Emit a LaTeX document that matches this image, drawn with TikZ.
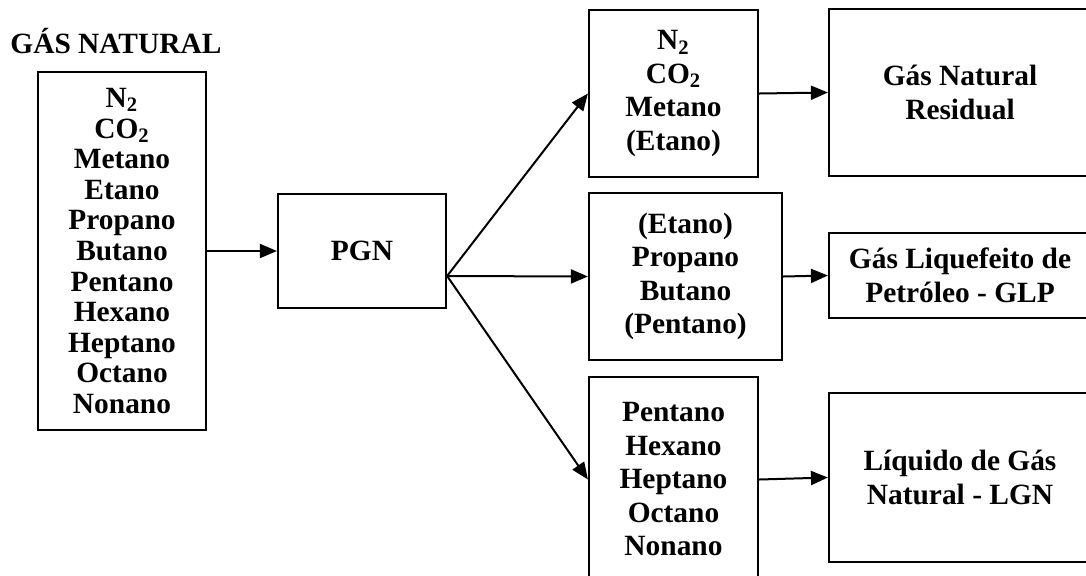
\documentclass[tikz,border=0pt]{standalone}
\usepackage{fontspec}
\setmainfont{Liberation Serif}
\usetikzlibrary{arrows.meta}
\tikzset{
  caixa/.style={rectangle, draw=black, line width=1.1pt, align=center, inner sep=0pt,
                font=\fontsize{14.7}{16.75}\selectfont\bfseries},
  lista/.style={caixa, font=\fontsize{14.7}{15.3}\selectfont\bfseries},
  seta/.style={-{Triangle[length=8.5pt,width=7pt]}, line width=1pt},
}

\begin{document}
\begin{tikzpicture}[x=0.5pt, y=-0.5pt]
        \useasboundingbox (0,0) rectangle (1086,575);
        \clip (0,0) rectangle (1086,575);
        \node[anchor=base west, inner sep=0pt, font=\fontsize{14.7}{16.75}\selectfont\bfseries] (titulo)
          at (10,53) {GÁS NATURAL};
        \node[lista, minimum width=84pt, minimum height=179pt] (gas) at (122,251)
          {N\textsubscript{2}\\CO\textsubscript{2}\\Metano\\Etano\\Propano\\Butano\\Pentano\\Hexano\\Heptano\\Octano\\Nonano};
        \node[caixa, minimum width=84pt, minimum height=57pt] (pgn) at (362,251) {PGN};
        \coordinate (saida) at ([yshift=-12.5pt]pgn.east);
        % frações
        \node[caixa, minimum width=84.5pt, minimum height=83.5pt] (leves) at (673.5,93.5)
          {N\textsubscript{2}\\CO\textsubscript{2}\\Metano\\(Etano)};
        \node[caixa, minimum width=96.5pt, minimum height=83.5pt] (medias) at (685.5,276.5)
          {(Etano)\\Propano\\Butano\\(Pentano)};
        \node[caixa, minimum width=84.5pt, minimum height=102.5pt] (pesadas) at (673.5,479.5)
          {Pentano\\Hexano\\Heptano\\Octano\\Nonano};
        % produtos
        \node[caixa, minimum width=131pt, minimum height=83.5pt] (gnr) at (960,92.5)
          {Gás Natural\\Residual};
        \node[caixa, minimum width=131pt, minimum height=42.5pt] (glp) at (960,275.5)
          {Gás Liquefeito de\\Petróleo - GLP};
        \node[caixa, minimum width=131pt, minimum height=84.5pt] (lgn) at (960,477.5)
          {Líquido de Gás\\Natural - LGN};
        \draw[seta] (gas) -- (pgn);
        \draw[seta] (saida) -- (leves.west); \draw[seta] (saida) -- (medias.west);
        \draw[seta] (saida) -- (pesadas.west);
        \draw[seta] (leves.east) -- (gnr.west); \draw[seta] (medias.east) -- (glp.west);
        \draw[seta] (pesadas.east) -- (lgn.west);
      \end{tikzpicture}
\end{document}
